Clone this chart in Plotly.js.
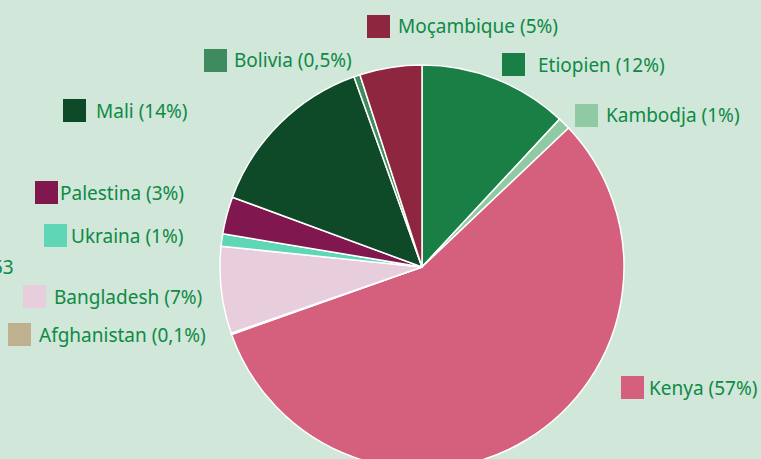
<!DOCTYPE html>
<html><head><meta charset="utf-8">
<script src="https://cdn.plot.ly/plotly-3.0.1.min.js"></script>
<style>html,body{margin:0;padding:0;overflow:hidden;background:#d0e7da;width:761px;height:459px}#chart{width:761px;height:480px}</style>
</head><body><div id="chart"></div>
<script>
// Data
const countries = ["Etiopien","Kambodja","Kenya","Afghanistan","Bangladesh","Ukraina","Palestina","Mali","Bolivia","Moçambique"];
const shares = [12, 1, 57, 0.1, 7, 1, 3, 14, 0.5, 5];
const shareLabels = ["12%","1%","57%","0,1%","7%","1%","3%","14%","0,5%","5%"];

// Styles / layout
const colors = ["#1a7f45","#8fcaa4","#d4607e","#bfb08f","#e8cddc","#5fd6b6","#81174f","#0e4a28","#3f8a5e","#8e2640"];
// square left x, square top y, text start x (pixels)
const labelPos = [[502,53,536],[575,104,604],[621,376,647],[8,323,37],[23,285,52],[44,224,69],[35,181,58],[63,99,94],[204,49,232],[367,15,396]];
const W = 761, H = 480, SQ = 23;
const cx = 422, cy = 267, R = 202;
const textColor = "#0e8a44";
const FONT = "Noto Sans, sans-serif", FS = 19;
const px = x => x / W, py = y => 1 - y / H;

const shapes = [], annotations = [];
countries.forEach((c, i) => {
  const [sx, sy, tx] = labelPos[i];
  shapes.push({type:"rect", xref:"paper", yref:"paper", x0:px(sx), x1:px(sx+SQ), y0:py(sy+SQ), y1:py(sy), fillcolor:colors[i], line:{width:0}});
  annotations.push({xref:"paper", yref:"paper", x:px(tx), y:py(sy+SQ/2), xanchor:"left", yanchor:"middle", showarrow:false, text:c + " (" + shareLabels[i] + ")", font:{family:FONT, size:FS, color:textColor}});
});
annotations.push({xref:"paper", yref:"paper", x:px(16), y:py(267), xanchor:"right", yanchor:"middle", showarrow:false, text:"53", font:{family:FONT, size:FS, color:textColor}});

const trace = {
  type:"pie", labels:countries, values:shares, sort:false, direction:"clockwise", rotation:0,
  marker:{colors:colors, line:{color:"#ffffff", width:1.5}},
  textinfo:"none", hoverinfo:"label+percent", showlegend:false,
  domain:{x:[px(cx-R), px(cx+R)], y:[py(cy+R), py(cy-R)]}
};
Plotly.newPlot("chart", [trace], {
  width:W, height:H, margin:{l:0,r:0,t:0,b:0}, paper_bgcolor:"#d0e7da", plot_bgcolor:"#d0e7da",
  shapes:shapes, annotations:annotations, showlegend:false
}, {displayModeBar:false, staticPlot:true});
</script></body></html>
